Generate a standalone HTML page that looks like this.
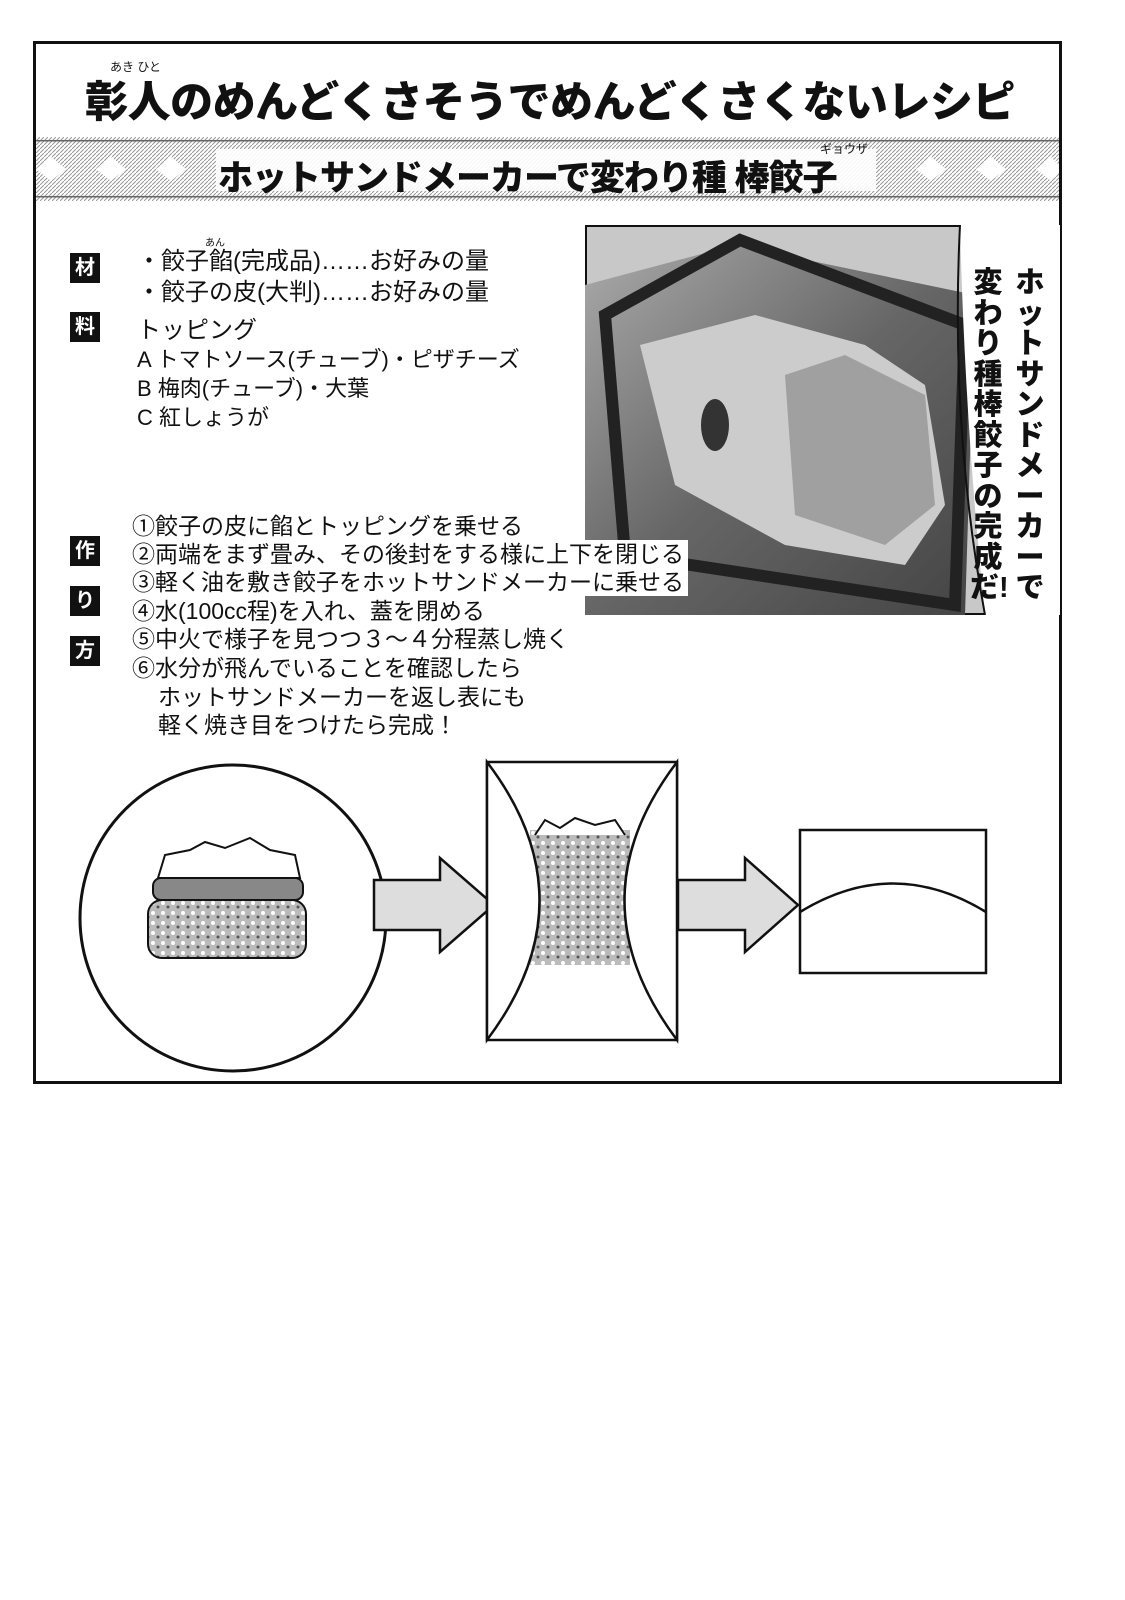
<!DOCTYPE html>
<html><head><meta charset="utf-8"><style>
*{margin:0;padding:0;box-sizing:border-box}
body{width:1125px;height:1600px;background:#fff;position:relative;overflow:hidden;font-family:"Liberation Sans","Noto Sans CJK JP",sans-serif;color:#111}
.a{position:absolute;white-space:nowrap}
.lab{position:absolute;left:70px;width:30px;height:30px;background:#111;color:#fff;font-size:20px;text-align:center;line-height:30px;font-weight:bold}
.t{position:absolute;font-size:23px;white-space:nowrap;line-height:28px}
</style></head><body>
<div class="a" style="left:33px;top:41px;width:1029px;height:1043px;border:3px solid #111"></div>
<div class="a" style="left:110px;top:58px;font-size:12px">あき ひと</div>
<div class="a" style="left:0;width:1100px;top:68px;text-align:center;font-size:43px;font-weight:900;letter-spacing:-0.5px">彰人のめんどくさそうでめんどくさくないレシピ</div>
<!-- banner -->
<svg class="a" style="left:36px;top:137px" width="1023" height="64">
<defs><pattern id="h" width="4" height="4" patternUnits="userSpaceOnUse"><rect width="4" height="4" fill="#fff"/><path d="M0 4L4 0" stroke="#999" stroke-width="1"/></pattern></defs>
<rect width="1023" height="64" fill="url(#h)"/>
<rect x="0" y="3" width="1023" height="1.5" fill="#666"/><rect x="0" y="59" width="1023" height="1.5" fill="#666"/>
<g fill="#fff">
<path d="M0 32 L15 20 L30 32 L15 44Z M60 32 L75 20 L90 32 L75 44Z M120 32 L135 20 L150 32 L135 44Z"/>
<path d="M880 32 L895 20 L910 32 L895 44Z M940 32 L955 20 L970 32 L955 44Z M1000 32 L1015 20 L1023 28 L1023 36 L1015 44Z"/>
</g>
<rect x="180" y="12" width="660" height="42" fill="#fff" opacity=".9"/>
</svg>
<div class="a" style="left:820px;top:140px;font-size:12px">ギョウザ</div>
<div class="a" style="left:218px;top:150px;font-size:35px;font-weight:900;letter-spacing:-1px">ホットサンドメーカーで変わり種 棒餃子</div>
<!-- ingredients -->
<div class="lab" style="top:253px">材</div>
<div class="lab" style="top:312px">料</div>
<div class="a" style="left:205px;top:234px;font-size:10px">あん</div>
<div class="t" style="left:137px;top:248px;font-size:24px">・餃子餡(完成品)……お好みの量</div>
<div class="t" style="left:137px;top:279px;font-size:24px">・餃子の皮(大判)……お好みの量</div>
<div class="t" style="left:137px;top:317px;font-size:24px">トッピング</div>
<div class="t" style="left:137px;top:346px;font-size:22px">A トマトソース(チューブ)・ピザチーズ</div>
<div class="t" style="left:137px;top:375px;font-size:22px">B 梅肉(チューブ)・大葉</div>
<div class="t" style="left:137px;top:404px;font-size:22px">C 紅しょうが</div>
<!-- photo -->
<svg class="a" style="left:585px;top:225px" width="475" height="390">
<defs><linearGradient id="g" x1="0" y1="0" x2="1" y2="1"><stop offset="0" stop-color="#aaa"/><stop offset=".5" stop-color="#666"/><stop offset="1" stop-color="#444"/></linearGradient></defs>
<rect x="1" y="1" width="473" height="388" fill="#c8c8c8" stroke="#111" stroke-width="2"/>
<path d="M0 60 L150 20 L390 70 L380 390 L0 390Z" fill="url(#g)"/>
<path d="M20 90 L155 15 L380 100 L370 380 L40 330Z" fill="none" stroke="#222" stroke-width="12"/>
<path d="M55 120 L170 90 L280 120 L340 160 L360 280 L320 340 L200 320 L90 260Z" fill="#ccc"/>
<path d="M200 150 L260 130 L340 170 L350 280 L300 320 L210 290Z" fill="#a0a0a0"/>
<ellipse cx="130" cy="200" rx="14" ry="26" fill="#333"/>
<path d="M375 0 L475 0 L475 390 L400 390 Q380 200 375 0Z" fill="#fff"/>
<path d="M375 0 Q365 200 400 390" fill="none" stroke="#111" stroke-width="2"/>
</svg>
<div class="a" style="left:1012px;top:268px;width:36px;font-size:29px;font-weight:900;line-height:30.5px;white-space:normal;text-align:center">ホットサンドメーカーで</div>
<div class="a" style="left:970px;top:268px;width:36px;font-size:29px;font-weight:900;line-height:30.5px;white-space:normal;text-align:center">変わり種棒餃子の完成だ!</div>
<!-- steps -->
<div class="lab" style="top:536px">作</div>
<div class="lab" style="top:586px">り</div>
<div class="lab" style="top:636px">方</div>
<div class="t" style="left:132px;top:512px;background:#fff">①餃子の皮に餡とトッピングを乗せる</div>
<div class="t" style="left:132px;top:540px;background:#fff;padding-right:4px">②両端をまず畳み、その後封をする様に上下を閉じる</div>
<div class="t" style="left:132px;top:568px;background:#fff;padding-right:4px">③軽く油を敷き餃子をホットサンドメーカーに乗せる</div>
<div class="t" style="left:132px;top:597px">④水(100cc程)を入れ、蓋を閉める</div>
<div class="t" style="left:132px;top:625px">⑤中火で様子を見つつ３～４分程蒸し焼く</div>
<div class="t" style="left:132px;top:654px">⑥水分が飛んでいることを確認したら</div>
<div class="t" style="left:158px;top:683px">ホットサンドメーカーを返し表にも</div>
<div class="t" style="left:158px;top:711px">軽く焼き目をつけたら完成！</div>
<!-- diagrams -->
<svg class="a" style="left:0;top:750px" width="1125" height="330">
<defs><pattern id="d" width="10" height="10" patternUnits="userSpaceOnUse"><rect width="10" height="10" fill="#bbb"/><circle cx="3" cy="3" r="2" fill="#fff"/><circle cx="8" cy="7" r="1.5" fill="#555"/></pattern></defs>
<circle cx="233" cy="168" r="153" fill="#fff" stroke="#111" stroke-width="3"/>
<rect x="148" y="150" width="158" height="58" rx="14" fill="url(#d)" stroke="#111" stroke-width="2"/>
<rect x="153" y="128" width="150" height="22" rx="8" fill="#888" stroke="#111" stroke-width="2"/>
<path d="M158 128 L165 105 L190 100 L205 92 L225 98 L250 88 L270 100 L295 105 L300 128Z" fill="#fff" stroke="#111" stroke-width="2"/>
<path d="M374 130 L440 130 L440 108 L494 155 L440 202 L440 180 L374 180Z" fill="#ddd" stroke="#111" stroke-width="2.5"/>
<rect x="487" y="12" width="190" height="278" fill="#fff" stroke="#111" stroke-width="2.5"/>
<rect x="530" y="80" width="100" height="135" fill="url(#d)"/>
<path d="M535 85 L545 70 L560 78 L575 68 L595 75 L615 70 L625 85" fill="#fff" stroke="#111" stroke-width="2"/>
<path d="M487 12 Q592 150 487 290 Z" fill="#fff" stroke="#111" stroke-width="2.5"/>
<path d="M677 12 Q572 150 677 290 Z" fill="#fff" stroke="#111" stroke-width="2.5"/>
<path d="M678 130 L745 130 L745 108 L798 155 L745 202 L745 180 L678 180Z" fill="#ddd" stroke="#111" stroke-width="2.5"/>
<rect x="800" y="80" width="186" height="143" fill="#fff" stroke="#111" stroke-width="2.5"/>
<path d="M800 162 Q893 105 986 162" fill="none" stroke="#111" stroke-width="2.5"/>
</svg>
</body></html>
